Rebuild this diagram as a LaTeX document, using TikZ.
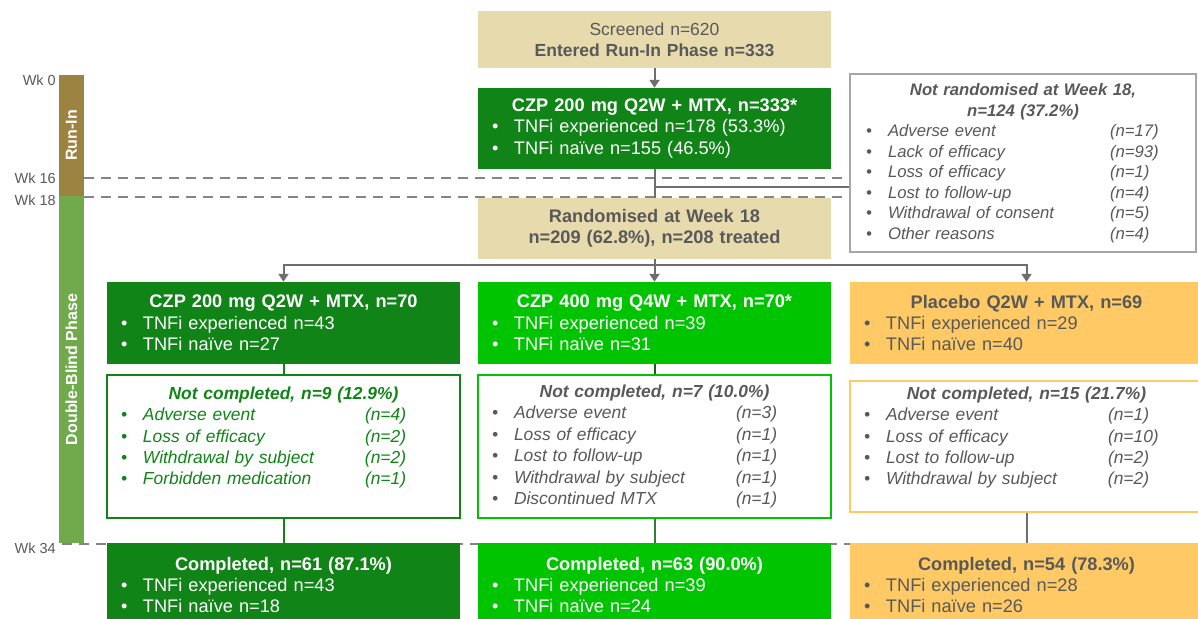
\documentclass[tikz,border=0pt]{standalone}
\usepackage{fontspec}
\setmainfont{Liberation Sans}
\usetikzlibrary{arrows.meta}

\definecolor{beige}{RGB}{231,218,173}
\definecolor{dkgreen}{RGB}{16,132,22}
\definecolor{ltgreen}{RGB}{0,196,0}
\definecolor{placebo}{RGB}{255,202,102}
\definecolor{txtgray}{RGB}{89,89,89}
\definecolor{linegray}{RGB}{110,110,110}
\definecolor{runinbar}{RGB}{156,131,66}
\definecolor{dbbar}{RGB}{112,170,76}

\newcommand{\fs}[2][21.4]{\fontsize{#2}{#1}\selectfont}
\newcommand{\bul}{\makebox[22pt][l]{\textbullet}}
\newcommand{\ttl}[1]{\makebox[\linewidth]{\bfseries #1}}
\newcommand{\rsn}[2]{\bul\makebox[222pt][l]{#1}#2}

\begin{document}
\begin{tikzpicture}[x=1pt, y=-1pt,
    box/.style={rectangle, inner xsep=14pt, inner ysep=0pt, text width=325pt, align=left, font=\fs{18.2}},
    ncbox/.style={box, draw, line width=2pt, fill=white, font=\fs{17.4}\itshape},
    phase/.style={rectangle, inner sep=0pt, minimum height=25pt, rotate=90, text=white, font={\fs[18]{16}\bfseries}},
    wk/.style={anchor=east, inner sep=0pt, text=txtgray, font={\fs[16]{14.5}}},
    conn/.style={draw=linegray, line width=2pt},
    arr/.style={conn, -{Triangle[width=10pt,length=8pt]}},
    wkline/.style={draw=linegray!85, line width=2pt, dash pattern=on 10pt off 7pt}]
  \useasboundingbox (0,0) rectangle (1198,618);

  % timeline
  \node[phase, fill=runinbar, minimum width=121pt] (runinbar) at (71.5,135.5) {Run-In};
  \node[phase, fill=dbbar, minimum width=347pt] (dbbar) at (71.5,369.5) {Double-Blind Phase};
  \node[wk] (wk0) at (56,80) {Wk 0};
  \node[wk] (wk16) at (56,178) {Wk 16};
  \node[wk] (wk18) at (56,200) {Wk 18};
  \node[wk] (wk34) at (56,548) {Wk 34};
  \draw[wkline] (84,177.5) -- (850,177.5);
  \draw[wkline] (84,196.5) -- (850,196.5);
  \draw[wkline] (62,543.5) -- (1198,543.5);

  % run-in phase
  \node[box, fill=beige, minimum height=57pt, text=txtgray, align=center, font=\fs{17.5}] (screened) at (654.5,39.5)
    {Screened n=620\\\textbf{Entered Run-In Phase n=333}};
  \node[box, fill=dkgreen, minimum height=81pt, text=white] (runin) at (654.5,128.5)
    {\ttl{CZP 200 mg Q2W + MTX, n=333*}\\\bul TNFi experienced n=178 (53.3\%)\\\bul TNFi na\"ive n=155 (46.5\%)};
  \node[box, draw=black!35, line width=2pt, fill=white, text width=314pt, inner xsep=16pt,
        minimum height=178pt, text=txtgray, font={\fs[20.5]{16.7}\itshape}] (notrand) at (1023,163)
    {\ttl{Not randomised at Week 18,}\\\ttl{n=124 (37.2\%)}\\
     \rsn{Adverse event}{(n=17)}\\\rsn{Lack of efficacy}{(n=93)}\\
     \rsn{Loss of efficacy}{(n=1)}\\\rsn{Lost to follow-up}{(n=4)}\\
     \rsn{Withdrawal of consent}{(n=5)}\\\rsn{Other reasons}{(n=4)}};
  \node[box, fill=beige, minimum height=61pt, text=txtgray, align=center, font=\fs{18.2}\bfseries] (rand) at (654.5,228.5)
    {Randomised at Week 18\\n=209 (62.8\%), n=208 treated};

  % double-blind arms
  \node[box, fill=dkgreen, minimum height=82pt, text=white] (arm1) at (283.5,323)
    {\ttl{CZP 200 mg Q2W + MTX, n=70}\\\bul TNFi experienced n=43\\\bul TNFi na\"ive n=27};
  \node[box, fill=ltgreen, minimum height=82pt, text=white] (arm2) at (654.5,323)
    {\ttl{CZP 400 mg Q4W + MTX, n=70*}\\\bul TNFi experienced n=39\\\bul TNFi na\"ive n=31};
  \node[box, fill=placebo, minimum height=82pt, text=txtgray] (arm3) at (1026.5,323)
    {\ttl{Placebo Q2W + MTX, n=69}\\\bul TNFi experienced n=29\\\bul TNFi na\"ive n=40};

  \node[ncbox, draw=dkgreen, minimum height=143pt, text=dkgreen] (nc1) at (283.5,446.5)
    {\ttl{Not completed, n=9 (12.9\%)}\\
     \rsn{Adverse event}{(n=4)}\\\rsn{Loss of efficacy}{(n=2)}\\
     \rsn{Withdrawal by subject}{(n=2)}\\\rsn{Forbidden medication}{(n=1)}\\\mbox{}};
  \node[ncbox, draw=ltgreen, minimum height=143pt, text=txtgray] (nc2) at (654.5,446.5)
    {\ttl{Not completed, n=7 (10.0\%)}\\
     \rsn{Adverse event}{(n=3)}\\\rsn{Loss of efficacy}{(n=1)}\\
     \rsn{Lost to follow-up}{(n=1)}\\\rsn{Withdrawal by subject}{(n=1)}\\
     \rsn{Discontinued MTX}{(n=1)}};
  \node[ncbox, draw=placebo, minimum height=131pt, text=txtgray] (nc3) at (1026.5,446.5)
    {\ttl{Not completed, n=15 (21.7\%)}\\
     \rsn{Adverse event}{(n=1)}\\\rsn{Loss of efficacy}{(n=10)}\\
     \rsn{Lost to follow-up}{(n=2)}\\\rsn{Withdrawal by subject}{(n=2)}\\\mbox{}};

  \node[box, fill=dkgreen, minimum height=84pt, text=white] (done1) at (283.5,585)
    {\ttl{Completed, n=61 (87.1\%)}\\\bul TNFi experienced n=43\\\bul TNFi na\"ive n=18};
  \node[box, fill=ltgreen, minimum height=84pt, text=white] (done2) at (654.5,585)
    {\ttl{Completed, n=63 (90.0\%)}\\\bul TNFi experienced n=39\\\bul TNFi na\"ive n=24};
  \node[box, fill=placebo, minimum height=84pt, text=txtgray] (done3) at (1026.5,585)
    {\ttl{Completed, n=54 (78.3\%)}\\\bul TNFi experienced n=28\\\bul TNFi na\"ive n=26};

  % connectors
  \draw[arr] (screened) -- (runin);
  \draw[conn] (runin) -- (rand);
  \coordinate (exit) at ([yshift=-17.5pt]runin.south);
  \draw[conn] (exit) -- (exit -| notrand.west);
  \draw[conn] (rand.south) -- ++(0,6) coordinate (split);
  \draw[arr] (split) -| (arm1.north);
  \draw[arr] (split) -- (arm2.north);
  \draw[arr] (split) -| (arm3.north);
  \draw[conn, draw=dkgreen] (arm1) -- (nc1);
  \draw[conn, draw=dkgreen] (nc1) -- (done1);
  \draw[conn, draw=dkgreen!80!black] (arm2) -- (nc2);
  \draw[conn, draw=dkgreen!60!linegray] (nc2) -- (done2);
  \draw[conn] (nc3) -- (done3);
\end{tikzpicture}
\end{document}
